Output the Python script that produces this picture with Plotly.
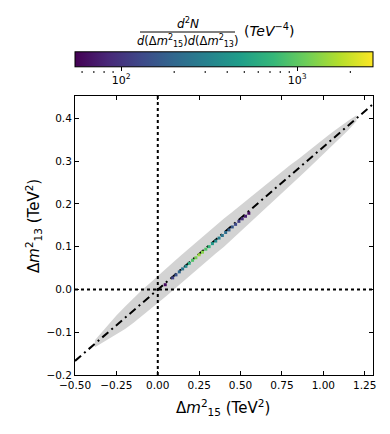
import numpy as np
import plotly.graph_objects as go

# gray band (edges)
band_x = [-0.38, -0.34, -0.3, -0.25, -0.2, -0.15, -0.1, -0.05, 0.0, 0.05, 0.1, 0.15, 0.2, 0.25, 0.3,
          0.35, 0.4, 0.45, 0.5, 0.55, 0.6, 0.65, 0.7, 0.75, 0.8, 0.85, 0.9, 0.95, 1.0, 1.05, 1.1, 1.15, 1.2]
band_upper = [-0.119, -0.101, -0.083, -0.061, -0.041, -0.021, -0.003, 0.014, 0.032, 0.050, 0.066, 0.083,
              0.100, 0.116, 0.133, 0.150, 0.166, 0.181, 0.197, 0.212, 0.229, 0.244, 0.259, 0.275, 0.291,
              0.305, 0.321, 0.336, 0.351, 0.366, 0.381, 0.394, 0.407]
band_lower = [-0.135, -0.126, -0.117, -0.105, -0.093, -0.079, -0.063, -0.048, -0.032, -0.016, 0.000,
              0.017, 0.034, 0.050, 0.067, 0.084, 0.100, 0.119, 0.137, 0.154, 0.171, 0.190, 0.207, 0.225,
              0.243, 0.261, 0.279, 0.298, 0.315, 0.334, 0.353, 0.372, 0.393]

# colored density strip
dens_x = [0.045, 0.09, 0.11, 0.13, 0.15, 0.17, 0.19, 0.21, 0.23, 0.25, 0.27, 0.29, 0.31, 0.33,
          0.35, 0.37, 0.39, 0.41, 0.43, 0.45, 0.47, 0.49, 0.51, 0.53, 0.55]
dens_y = [0.011, 0.027, 0.034, 0.041, 0.048, 0.054, 0.061, 0.068, 0.074, 0.081, 0.087, 0.094, 0.100,
          0.107, 0.113, 0.120, 0.126, 0.133, 0.139, 0.146, 0.152, 0.159, 0.165, 0.171, 0.178]
dens_val = [60, 120, 150, 200, 250, 350, 600, 900, 1200, 1500, 1300, 900, 700, 450, 350, 300, 250,
            220, 180, 160, 130, 110, 90, 75, 65]

# reference line
line_x = [-0.5, 1.3]
line_y = [-0.167, 0.433]

cb_min, cb_max = 54.7, 2690
cb_major = [100, 1000]
cb_minor = [60, 70, 80, 90, 200, 300, 400, 500, 600, 700, 800, 900, 2000]

font = "DejaVu Sans"
L, R, T, B = 75, 17, 96, 59
W, H = 390, 434
pw, ph = W - L - R, H - T - B


def px(x):
    return (x - L) / pw


def py(y):
    return (H - B - y) / ph


fig = go.Figure()
fig.add_trace(go.Scatter(x=band_x + band_x[::-1], y=band_upper + band_lower[::-1], fill='toself',
                         fillcolor='#d3d3d3', line=dict(width=0), mode='lines', hoverinfo='skip'))
fig.add_trace(go.Scatter(x=[0, 0], y=[-0.2, 0.452], mode='lines',
                         line=dict(color='black', width=2, dash='dot')))
fig.add_trace(go.Scatter(x=[-0.5, 1.3], y=[0, 0], mode='lines',
                         line=dict(color='black', width=2, dash='dot')))
fig.add_trace(go.Scatter(x=line_x, y=line_y, mode='lines',
                         line=dict(color='black', width=2, dash='8px,4px,2px,4px')))
fig.add_trace(go.Scatter(
    x=dens_x, y=dens_y, mode='markers',
    marker=dict(size=3, symbol='square', color=np.log10(dens_val), colorscale='Viridis',
                cmin=np.log10(cb_min), cmax=np.log10(cb_max), line=dict(width=0),
                colorbar=dict(orientation='h', x=0.5, xanchor='center', len=1.0,
                              y=py(88), yanchor='bottom', thickness=15, xpad=0, ypad=0,
                              outlinewidth=1, outlinecolor='black',
                              tickvals=np.log10(cb_major),
                              ticktext=['10<sup>2</sup>', '10<sup>3</sup>'],
                              ticks='outside', ticklen=4, tickcolor='black',
                              ticklabelposition='outside top',
                              tickfont=dict(family=font, size=11, color='black'))),
))

# minor ticks of the log colorbar
lo, hi = np.log10(cb_min), np.log10(cb_max)
for v in cb_minor:
    xf = (np.log10(v) - lo) / (hi - lo)
    fig.add_shape(type='line', xref='paper', yref='paper', x0=xf, x1=xf,
                  y0=py(73), y1=py(71), line=dict(color='black', width=1))

axis_common = dict(showgrid=False, zeroline=False, showline=True, linecolor='black', linewidth=1,
                   mirror='allticks', ticks='inside', ticklen=4, tickcolor='black', automargin=False,
                   tickfont=dict(family=font, size=10.5, color='black'))
fig.update_xaxes(range=[-0.5, 1.3], tickvals=[-0.5, -0.25, 0, 0.25, 0.5, 0.75, 1.0, 1.25],
                 tickformat='.2f', **axis_common)
fig.update_yaxes(range=[-0.2, 0.452], tickvals=[-0.2, -0.1, 0, 0.1, 0.2, 0.3, 0.4],
                 tickformat='.1f', **axis_common)


def label(x, y, text, size, **kw):
    fig.add_annotation(xref='paper', yref='paper', x=px(x), y=py(y), text=text, showarrow=False,
                       xanchor=kw.pop('xanchor', 'center'), yanchor='middle',
                       font=dict(family=font, size=size, color='black'), **kw)


# axis titles
label(223, 408, 'Δ<i>m</i><sup>2</sup><sub>15</sub> (TeV<sup>2</sup>)', 15)
label(33, 226, 'Δ<i>m</i><sup>2</sup><sub>13</sub> (TeV<sup>2</sup>)', 15, textangle=-90)

# colorbar title as a fraction
label(188, 23, '<i>d</i><sup>2</sup><i>N</i>', 12)
label(188, 41, '<i>d</i>(Δ<i>m</i><sup>2</sup><sub>15</sub>)<i>d</i>(Δ<i>m</i><sup>2</sup><sub>13</sub>)', 11.5)
fig.add_shape(type='line', xref='paper', yref='paper', x0=px(140), x1=px(235),
              y0=py(32), y1=py(32), line=dict(color='black', width=1))
label(242, 30, '(<i>TeV</i><sup>−4</sup>)', 14, xanchor='left')

fig.update_layout(width=W, height=H, margin=dict(l=L, r=R, t=T, b=B, autoexpand=False),
                  plot_bgcolor='white', paper_bgcolor='white', showlegend=False,
                  font=dict(family=font, color='black'))
fig.write_html("out.html", config={'displayModeBar': False},
               post_script="document.body.style.margin='0';")
